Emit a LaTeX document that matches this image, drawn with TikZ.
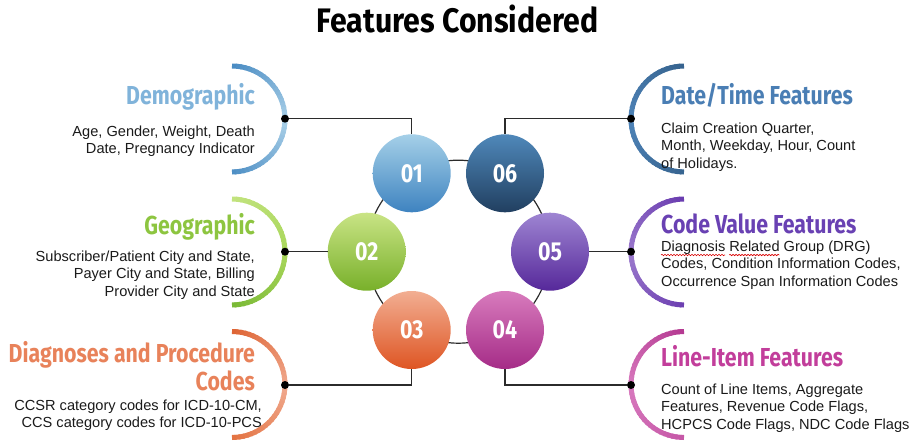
\documentclass[tikz,border=0pt]{standalone}
\usepackage{fontspec}
\setmainfont{Liberation Sans}
\newfontfamily\headfont{Fira Sans}[FakeStretch=0.82]
\newfontfamily\titlefont{Fira Sans}[FakeStretch=0.89]
\usetikzlibrary{calc,decorations.pathmorphing}

% text colours
\definecolor{bodytext}{HTML}{1A1A1A}
\definecolor{linegray}{HTML}{2B2B2B}
\definecolor{demoT}{HTML}{80B3DA}
\definecolor{geoT}{HTML}{8DC540}
\definecolor{diagT}{HTML}{E8825A}
\definecolor{dateT}{HTML}{4A7EB4}
\definecolor{codeT}{HTML}{6941B3}
\definecolor{lineT}{HTML}{C23E9B}
% arc colours (start / middle / end)
\definecolor{demoA}{HTML}{4A8CC3}\definecolor{demoM}{HTML}{AAD0E8}\definecolor{demoZ}{HTML}{4A8CC3}
\definecolor{geoA}{HTML}{C2E37E}\definecolor{geoM}{HTML}{A8D65A}\definecolor{geoZ}{HTML}{78B834}
\definecolor{diagA}{HTML}{DE6535}\definecolor{diagM}{HTML}{F0A98E}\definecolor{diagZ}{HTML}{E3713F}
\definecolor{dateA}{HTML}{36638F}\definecolor{dateM}{HTML}{4F84B8}\definecolor{dateZ}{HTML}{36638F}
\definecolor{codeA}{HTML}{6A3DB0}\definecolor{codeM}{HTML}{9C7ACD}\definecolor{codeZ}{HTML}{6A3DB0}
\definecolor{lineA}{HTML}{B53A92}\definecolor{lineM}{HTML}{D87ABE}\definecolor{lineZ}{HTML}{C556A6}
% ball colours (top / bottom)
\definecolor{b1t}{HTML}{A5D0E8}\definecolor{b1b}{HTML}{3E83C0}
\definecolor{b2t}{HTML}{C9E485}\definecolor{b2b}{HTML}{78B02A}
\definecolor{b3t}{HTML}{F2AE92}\definecolor{b3b}{HTML}{DE5523}
\definecolor{b4t}{HTML}{D87BBD}\definecolor{b4b}{HTML}{A52C87}
\definecolor{b5t}{HTML}{9E85D2}\definecolor{b5b}{HTML}{56289A}
\definecolor{b6t}{HTML}{4F88BA}\definecolor{b6b}{HTML}{213F60}

\newcommand\bodysize{\fontsize{14.6}{17.8}\selectfont}
\newcommand\headsize{\fontsize{26}{28.3}\selectfont}

% half ring drawn in short pieces so its colour runs start -> middle -> end
\newcommand\shadedarc[7]{%
  \foreach \k in {0,...,39}{%
    \pgfmathsetmacro\angA{#3+(#4-#3)*\k/40}%
    \pgfmathsetmacro\angB{#3+(#4-#3)*min(\k+1.4,40)/40}%
    \ifnum\k<20
      \pgfmathtruncatemacro\mixp{100-5*\k}%
      \edef\segcol{#5!\mixp!#6}%
    \else
      \pgfmathtruncatemacro\mixp{5*\k-100}%
      \edef\segcol{#7!\mixp!#6}%
    \fi
    \draw[line width=5, draw=\segcol] (#1) ++(\angA:#2) arc[start angle=\angA, end angle=\angB, radius=#2];
  }}

\newlength\wDiag
\newlength\wRel
\newlength\wDiagRel

\begin{document}
\settowidth\wDiag{\bodysize Diagnosis}%
\settowidth\wRel{\bodysize Related}%
\settowidth\wDiagRel{\bodysize Diagnosis Related}%
\begin{tikzpicture}[x=1pt,y=-1pt,
  conn/.style={draw=linegray, line width=1.3},
  ringline/.style={draw=linegray, line width=1.2},
  dotmark/.style={circle, fill=black, inner sep=0, minimum size=8},
  numball/.style={circle, inner sep=0, minimum size=78, text=white,
    font=\headfont\bfseries\fontsize{26}{26}\selectfont},
  headL/.style={anchor=base east, inner sep=0, align=right, font=\headfont\bfseries\headsize},
  headR/.style={anchor=base west, inner sep=0, align=left, font=\headfont\bfseries\headsize},
  bodyL/.style={anchor=base east, inner sep=0, align=right, text=bodytext, font=\bodysize},
  bodyR/.style={anchor=base west, inner sep=0, align=left, text=bodytext, font=\bodysize},
  spell/.style={draw=red!85!black, line width=0.6, decorate,
    decoration={snake, amplitude=0.7, segment length=3}}]
\useasboundingbox (0,0) rectangle (918,442);

% heading
\node[anchor=base, inner sep=0, font=\titlefont\bfseries\fontsize{34}{34}\selectfont] (title)
  at (457.5,32) {Features Considered};

% ring that links the six balls
\coordinate (hub) at (458.3,251.7);
\draw[ringline] (hub) circle[radius=91.5];

% numbered balls
\node[numball, top color=b1t, bottom color=b1b] (n1) at (411.7,173.3) {01};
\node[numball, top color=b2t, bottom color=b2b] (n2) at (366.7,251.7) {02};
\node[numball, top color=b3t, bottom color=b3b] (n3) at (411.7,330.0) {03};
\node[numball, top color=b4t, bottom color=b4b] (n4) at (505.0,330.0) {04};
\node[numball, top color=b5t, bottom color=b5b] (n5) at (550.0,251.7) {05};
\node[numball, top color=b6t, bottom color=b6b] (n6) at (505.0,173.3) {06};

% half rings around the feature groups
\coordinate (a1) at (232,119);
\coordinate (a2) at (232,252);
\coordinate (a3) at (232,384.5);
\coordinate (a6) at (684,119);
\coordinate (a5) at (684,252);
\coordinate (a4) at (684,384.5);
\shadedarc{a1}{53}{-90}{90}{demoA}{demoM}{demoZ}
\shadedarc{a2}{53}{-90}{90}{geoA}{geoM}{geoZ}
\shadedarc{a3}{53}{-90}{90}{diagA}{diagM}{diagZ}
\shadedarc{a6}{53}{270}{90}{dateA}{dateM}{dateZ}
\shadedarc{a5}{53}{270}{90}{codeA}{codeM}{codeZ}
\shadedarc{a4}{53}{270}{90}{lineA}{lineM}{lineZ}

% connector end dots
\node[dotmark] (d1) at (285,118.7) {};
\node[dotmark] (d2) at (285,251.7) {};
\node[dotmark] (d3) at (285,385) {};
\node[dotmark] (d6) at (631,118.7) {};
\node[dotmark] (d5) at (631,251.7) {};
\node[dotmark] (d4) at (631,385) {};

% connectors
\draw[conn] (d1) -- (d1 -| n1) -- (n1);
\draw[conn] (d2) -- (n2);
\draw[conn] (n3) -- (n3 |- d3) -- (d3);
\draw[conn] (d6) -- (d6 -| n6) -- (n6);
\draw[conn] (d5) -- (n5);
\draw[conn] (n4) -- (n4 |- d4) -- (d4);

% left groups (base anchors sit on the last line)
\node[headL, text=demoT] (h1) at (255,104) {Demographic};
\node[bodyL] (t1) at (255,153.8) {Age, Gender, Weight, Death\\Date, Pregnancy Indicator};
\node[headL, text=geoT] (h2) at (255,234) {Geographic};
\node[bodyL] (t2) at (255,296.6) {Subscriber/Patient City and State,\\Payer City and State, Billing\\Provider City and State};
\node[headL, text=diagT] (h3) at (255,390.3) {Diagnoses and Procedure\\Codes};
\node[bodyL] (t3) at (262,427.8) {CCSR category codes for ICD-10-CM,\\CCS category codes for ICD-10-PCS};

% right groups
\node[headR, text=dateT] (h6) at (661,104) {Date/Time Features};
\node[bodyR] (t6) at (661,168.6) {Claim Creation Quarter,\\Month, Weekday, Hour, Count\\of Holidays.};
\node[headR, text=codeT] (h5) at (661,233) {Code Value Features};
\node[bodyR] (t5) at (661,286.6) {Diagnosis Related Group (DRG)\\Codes, Condition Information Codes,\\Occurrence Span Information Codes};
\node[headR, text=lineT] (h4) at (661,366) {Line-Item Features};
\node[bodyR] (t4) at (661,429.6) {Count of Line Items, Aggregate\\Features, Revenue Code Flags,\\HCPCS Code Flags, NDC Code Flags};

% wavy spelling marks under two words of the first line
\draw[spell] ($(t5.base west)+(0,-31.6)$) -- ++(\wDiag,0);
\draw[spell] ($(t5.base west)+(0,-31.6)+(\wDiagRel,0)-(\wRel,0)$) -- ++(\wRel,0);
\end{tikzpicture}
\end{document}
